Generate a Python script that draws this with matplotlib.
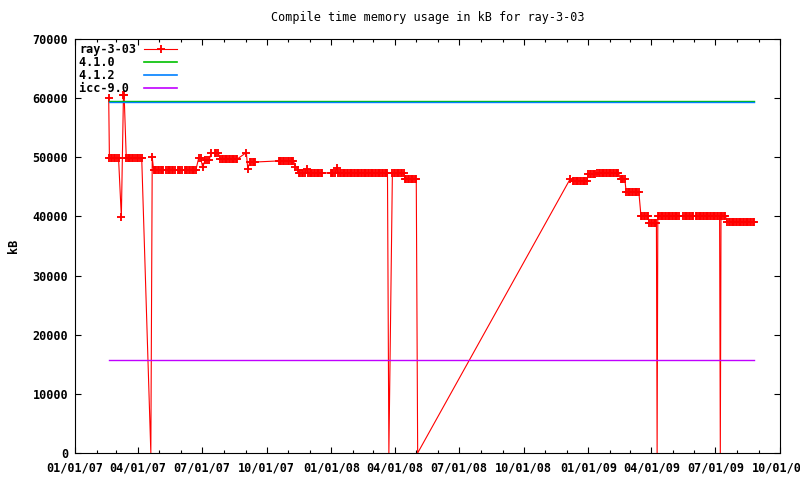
"""
Compile time memory usage of ray-3-03 (gnuplot-style time series).
"""

import matplotlib
matplotlib.use("Agg")
import matplotlib.pyplot as plt
import matplotlib.dates as mdates
import pandas as pd

TITLE = "Compile time memory usage in kB for ray-3-03"
Y_LABEL = "kB"

# nightly builds of ray-3-03 (date, kB)
ray_dates = [
    # 2007
    "2007-02-18", "2007-02-19", "2007-02-21", "2007-02-23", "2007-02-25", "2007-02-27", "2007-03-02", "2007-03-04",
    "2007-03-08",
    "2007-03-11", "2007-03-12",
    "2007-03-15", "2007-03-17", "2007-03-19", "2007-03-21", "2007-03-23", "2007-03-25", "2007-03-27", "2007-03-30",
    "2007-04-01", "2007-04-03", "2007-04-06",
    "2007-04-19", "2007-04-21",
    "2007-04-23", "2007-04-25", "2007-04-27", "2007-04-29", "2007-05-01", "2007-05-03", "2007-05-05", "2007-05-07",
    "2007-05-11", "2007-05-13", "2007-05-15", "2007-05-17", "2007-05-19", "2007-05-21", "2007-05-23", "2007-05-27",
    "2007-05-29", "2007-05-31", "2007-06-02", "2007-06-06", "2007-06-08", "2007-06-10", "2007-06-12", "2007-06-14",
    "2007-06-16", "2007-06-18", "2007-06-20", "2007-06-22",
    "2007-06-26", "2007-06-29", "2007-07-02", "2007-07-05", "2007-07-08", "2007-07-11", "2007-07-14", "2007-07-19",
    "2007-07-21", "2007-07-24",
    "2007-07-27", "2007-07-29", "2007-07-31", "2007-08-02", "2007-08-04", "2007-08-06", "2007-08-08", "2007-08-10",
    "2007-08-12", "2007-08-14", "2007-08-16", "2007-08-18", "2007-08-20",
    "2007-09-02", "2007-09-04",
    "2007-09-07", "2007-09-09", "2007-09-11", "2007-09-13", "2007-09-15",
    "2007-10-18", "2007-10-20", "2007-10-22", "2007-10-24", "2007-10-26", "2007-10-29", "2007-10-31", "2007-11-02",
    "2007-11-04", "2007-11-06", "2007-11-08",
    "2007-11-11", "2007-11-14",
    "2007-11-16", "2007-11-18", "2007-11-20", "2007-11-22", "2007-11-24",
    "2007-11-27",
    "2007-11-29", "2007-12-01", "2007-12-03", "2007-12-05", "2007-12-07", "2007-12-09", "2007-12-11", "2007-12-13",
    "2007-12-15", "2007-12-17", "2007-12-19", "2007-12-31",
    # 2008
    "2008-01-02", "2008-01-04", "2008-01-06",
    "2008-01-09",
    "2008-01-11", "2008-01-13", "2008-01-15", "2008-01-17", "2008-01-19", "2008-01-21", "2008-01-23", "2008-01-25",
    "2008-01-27", "2008-01-29", "2008-01-31", "2008-02-02", "2008-02-04", "2008-02-06", "2008-02-08", "2008-02-10",
    "2008-02-12", "2008-02-14", "2008-02-16", "2008-02-18", "2008-02-20", "2008-02-22", "2008-02-24", "2008-02-26",
    "2008-02-28", "2008-03-01", "2008-03-03", "2008-03-05", "2008-03-07", "2008-03-09", "2008-03-11", "2008-03-13",
    "2008-03-15", "2008-03-17", "2008-03-19", "2008-03-21",
    "2008-03-23",
    "2008-03-28", "2008-03-30", "2008-04-01", "2008-04-03", "2008-04-05", "2008-04-07", "2008-04-09", "2008-04-11",
    "2008-04-13",
    "2008-04-15", "2008-04-17", "2008-04-19", "2008-04-21", "2008-04-23", "2008-04-25", "2008-04-27", "2008-04-29",
    "2008-05-01",
    "2008-05-03",
    "2008-12-06",
    "2008-12-10", "2008-12-12", "2008-12-14", "2008-12-16", "2008-12-18", "2008-12-20", "2008-12-22", "2008-12-24",
    "2008-12-26", "2008-12-28", "2008-12-30",
    # 2009
    "2009-01-01", "2009-01-03", "2009-01-05", "2009-01-07", "2009-01-09", "2009-01-11",
    "2009-01-14", "2009-01-16", "2009-01-18", "2009-01-20", "2009-01-22", "2009-01-24", "2009-01-26", "2009-01-28",
    "2009-01-30", "2009-02-01", "2009-02-03", "2009-02-05", "2009-02-07", "2009-02-09", "2009-02-11", "2009-02-13",
    "2009-02-16", "2009-02-18", "2009-02-20", "2009-02-22",
    "2009-02-24", "2009-02-26", "2009-02-28", "2009-03-02", "2009-03-04", "2009-03-06", "2009-03-08", "2009-03-10",
    "2009-03-12", "2009-03-14",
    "2009-03-17", "2009-03-19", "2009-03-21", "2009-03-23", "2009-03-25", "2009-03-27",
    "2009-03-29", "2009-03-31", "2009-04-02", "2009-04-04", "2009-04-06", "2009-04-08",
    "2009-04-09",
    "2009-04-10", "2009-04-12", "2009-04-14", "2009-04-16", "2009-04-18", "2009-04-20", "2009-04-22", "2009-04-24",
    "2009-04-26", "2009-04-28", "2009-04-30", "2009-05-02", "2009-05-04", "2009-05-06", "2009-05-08", "2009-05-10",
    "2009-05-16", "2009-05-18", "2009-05-20", "2009-05-22", "2009-05-24", "2009-05-26", "2009-05-28", "2009-05-30",
    "2009-06-03", "2009-06-05", "2009-06-07", "2009-06-09", "2009-06-11", "2009-06-13", "2009-06-15", "2009-06-17",
    "2009-06-19", "2009-06-21", "2009-06-23", "2009-06-25", "2009-06-27", "2009-06-29", "2009-07-01", "2009-07-03",
    "2009-07-05", "2009-07-07",
    "2009-07-08",
    "2009-07-09", "2009-07-11", "2009-07-13", "2009-07-15",
    "2009-07-18", "2009-07-20", "2009-07-22", "2009-07-24", "2009-07-26", "2009-07-28", "2009-07-30", "2009-08-01",
    "2009-08-03", "2009-08-05", "2009-08-07", "2009-08-09", "2009-08-11", "2009-08-13", "2009-08-15", "2009-08-17",
    "2009-08-19", "2009-08-21", "2009-08-23", "2009-08-25",
]

ray_kb = (
    [60100] + [49900] * 7 + [39900] + [60500] * 2 + [49900] * 11 + [0, 50000]
    + [47800] * 28
    + [49800, 49800, 48300, 49500, 49500, 49500, 50800, 50700, 50700, 50700]
    + [49700] * 13 + [50800, 48100] + [49200] * 5
    + [49400] * 11 + [48400, 47900] + [47350] * 5 + [48100] + [47350] * 12
    + [47350] * 3 + [48200] + [47350] * 36 + [0]
    + [47350] * 9 + [46300] * 9 + [0]
    + [46300] + [46000] * 11
    + [47200] * 6 + [47300] * 16 + [46300] * 4 + [44100] * 10
    + [40100] * 6 + [38900] * 6 + [0]
    + [40100] * 16 + [40100] * 8 + [40100] * 18 + [0]
    + [40100] * 4 + [39000] * 20
)

# reference compilers (constant over the whole period)
ref_labels = ["4.1.0", "4.1.2", "icc-9.0"]
ref_kb = [59500, 59300, 15700]
ref_colors = ["#00c000", "#0080ff", "#c000ff"]

y_ticks = [0, 10000, 20000, 30000, 40000, 50000, 60000, 70000]
x_range = ["2007-01-01", "2009-10-01"]

plt.rcParams["font.family"] = ["DejaVu Sans Mono"]
plt.rcParams["font.size"] = 8.5
plt.rcParams["font.weight"] = "bold"

fig = plt.figure(figsize=(8, 4.8), dpi=100)
ax = fig.add_axes([75 / 800, 1 - 453 / 480, 705 / 800, 414 / 480])

t = pd.to_datetime(ray_dates)
# gnuplot hides the point symbols sitting on the bottom border (0 kB)
marked = [i for i, v in enumerate(ray_kb) if v > 0]
ax.plot(t, ray_kb, color="#ff0000", lw=0.8, marker="+", ms=5.5, mew=1.35,
        markevery=marked, label="ray-3-03".ljust(8))
for lab, kb, col in zip(ref_labels, ref_kb, ref_colors):
    ax.plot([t[0], t[-1]], [kb, kb], color=col, lw=1.0, label=lab.ljust(8))

ax.set_xlim(pd.to_datetime(x_range[0]), pd.to_datetime(x_range[1]))
ax.set_ylim(0, 70000)
ax.set_yticks(y_ticks)
ax.set_yticklabels([str(v) for v in y_ticks])

ax.xaxis.set_major_locator(mdates.MonthLocator(bymonth=[1, 4, 7, 10]))
ax.xaxis.set_minor_locator(mdates.MonthLocator())
ax.xaxis.set_major_formatter(mdates.DateFormatter("%m/%d/%y"))

ax.tick_params(which="both", direction="in", top=True, right=True, width=0.8)
ax.tick_params(which="major", length=4.5)
ax.tick_params(which="minor", length=2.2)
ax.tick_params(axis="y", pad=5)
ax.tick_params(axis="x", pad=6)
for sp in ax.spines.values():
    sp.set_linewidth(0.8)

leg = ax.legend(loc="upper left", frameon=False, markerfirst=False, handlelength=2.8,
                handletextpad=0.7, labelspacing=0.0, borderpad=0.0, borderaxespad=0.35)
for line in leg.get_lines()[1:]:
    line.set_linewidth(1.2)

fig.text(427.5 / 800, 1 - 18 / 480, TITLE, ha="center", va="center", fontweight="normal")
fig.text(14 / 800, 1 - 246 / 480, Y_LABEL, rotation=90, ha="center", va="center")

fig.savefig("out.png", dpi=100)
plt.close(fig)
